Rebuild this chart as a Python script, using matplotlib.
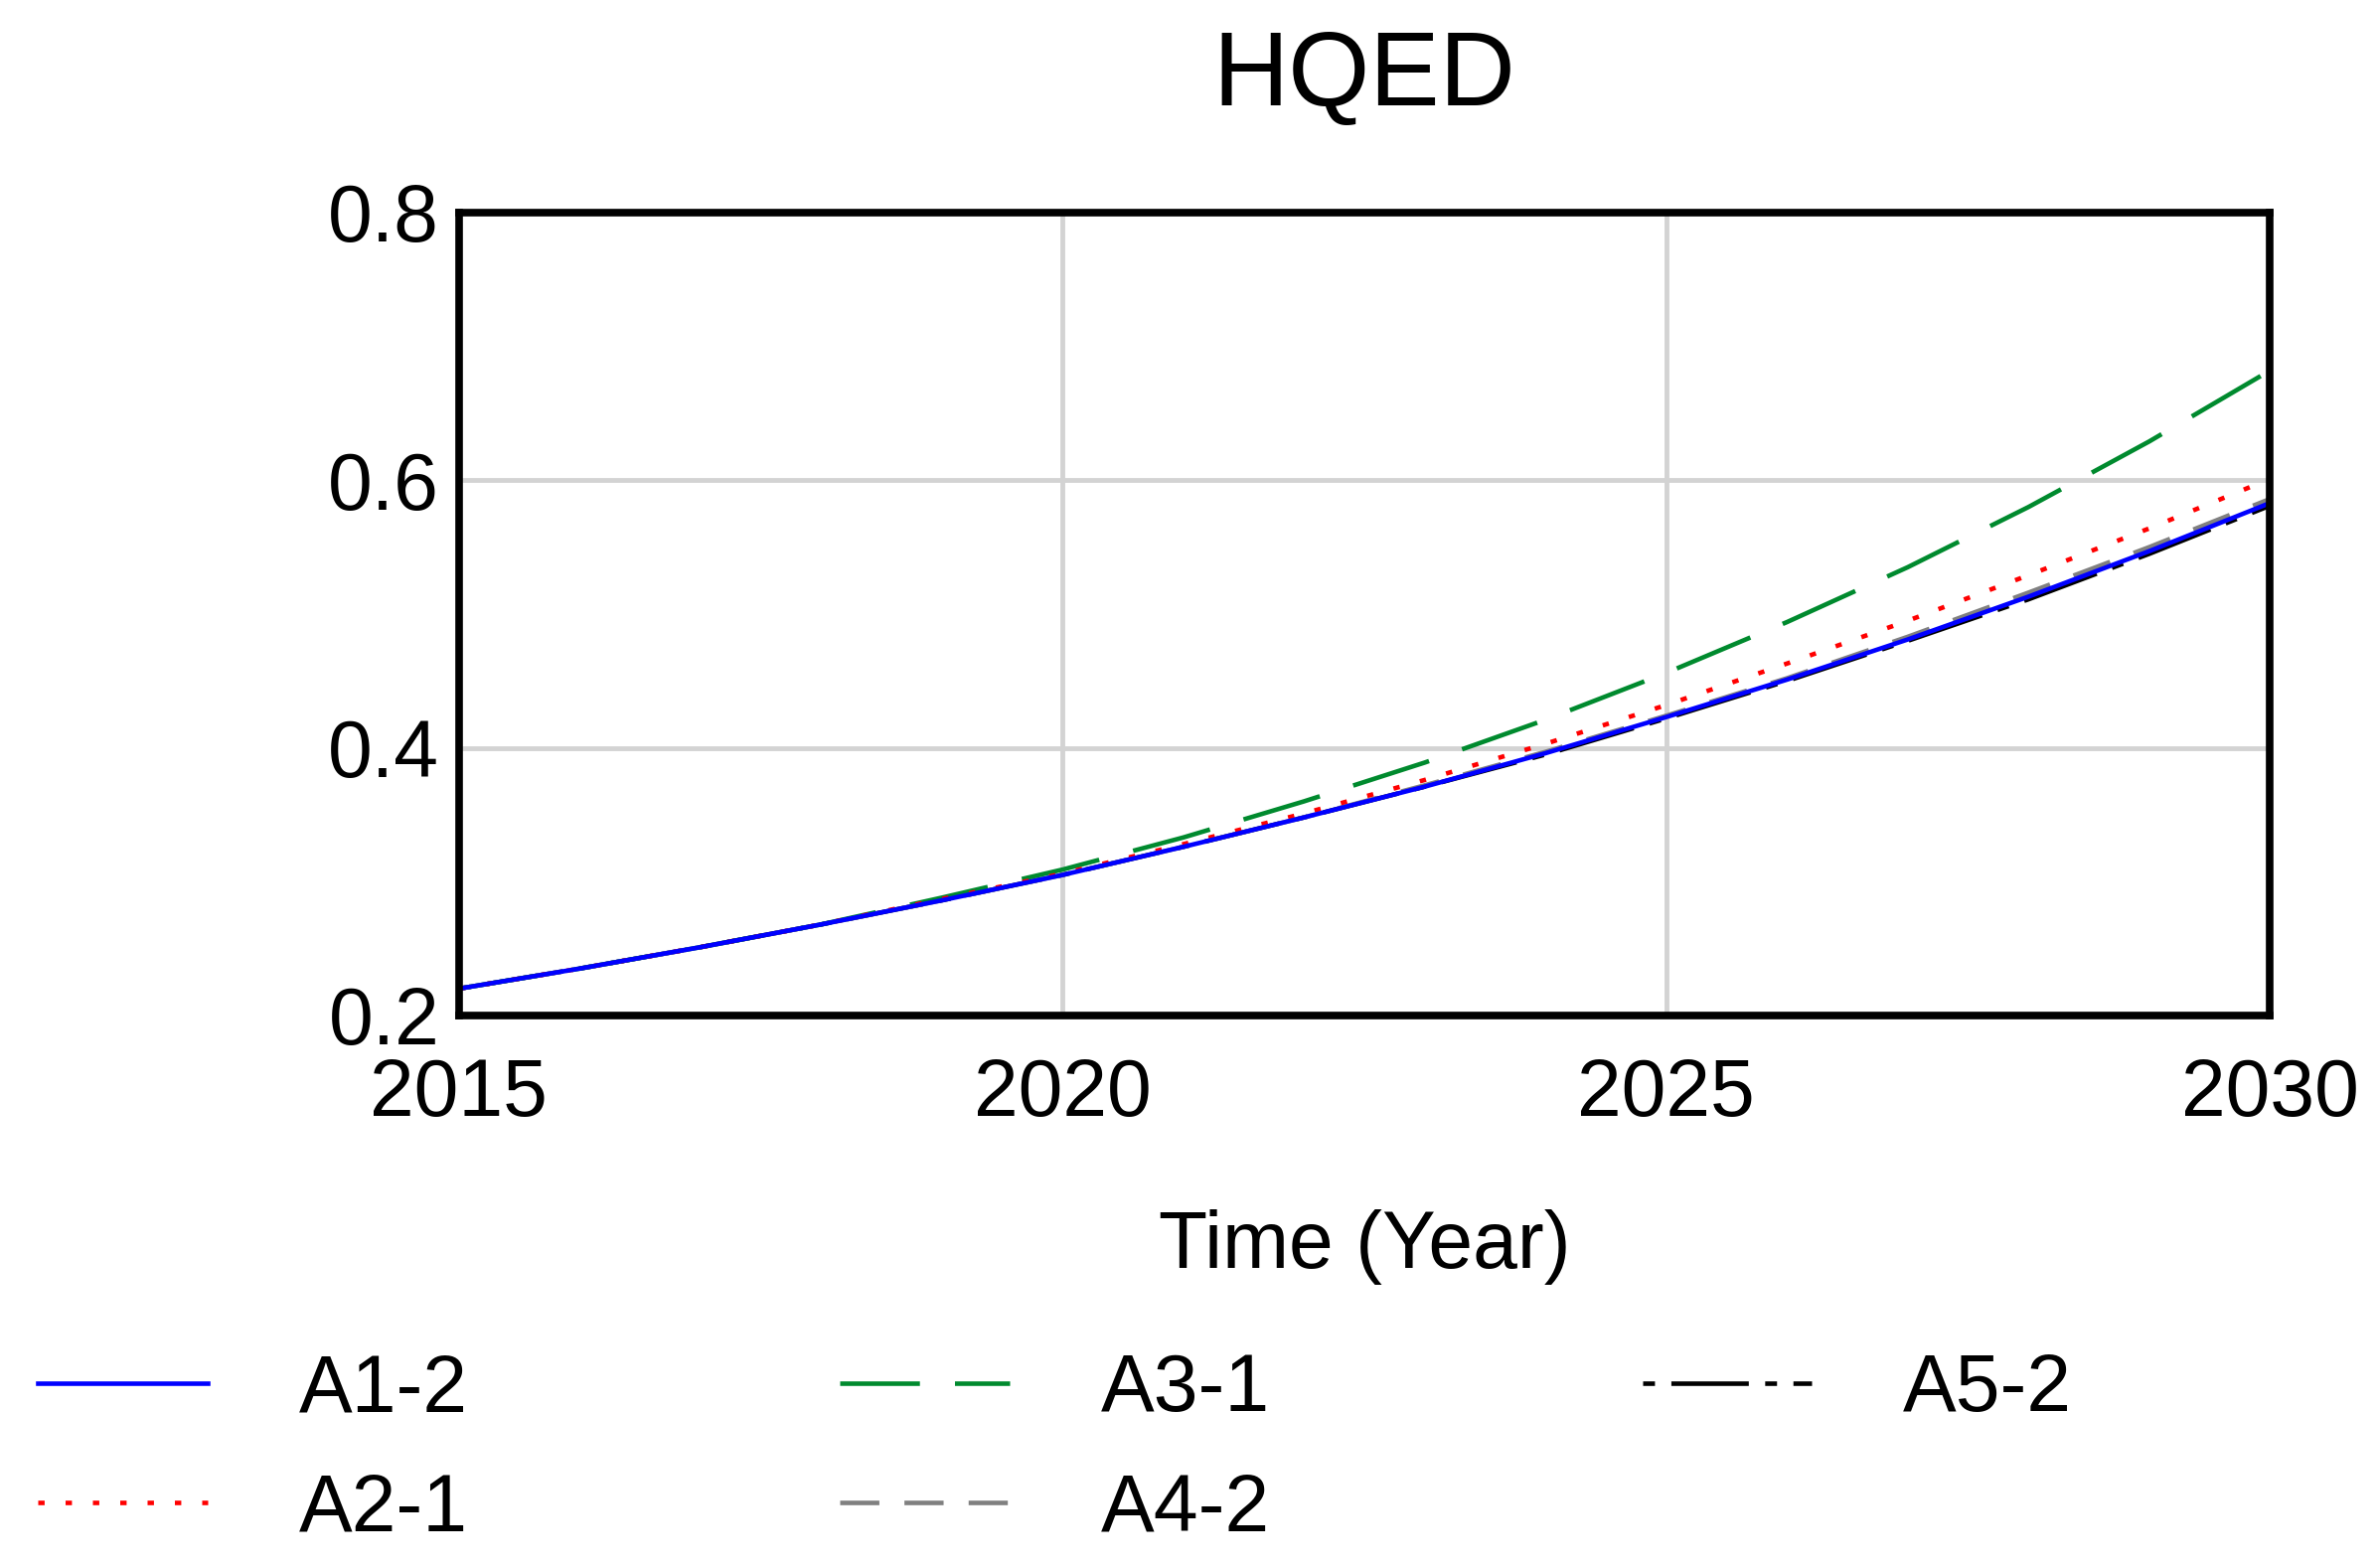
import numpy as np
import matplotlib
matplotlib.use("Agg")
import matplotlib.pyplot as plt

plt.rcParams['font.family'] = ['Liberation Sans', 'DejaVu Sans']

# datos
years = np.arange(2015, 2031)
a1_2 = [0.220, 0.235, 0.251, 0.268, 0.286, 0.305, 0.326, 0.348, 0.371, 0.396,
        0.423, 0.451, 0.481, 0.513, 0.547, 0.583]
a2_1 = [0.220, 0.235, 0.251, 0.268, 0.287, 0.306, 0.328, 0.351, 0.376, 0.403,
        0.432, 0.463, 0.495, 0.529, 0.564, 0.601]
a3_1 = [0.220, 0.235, 0.251, 0.268, 0.288, 0.309, 0.333, 0.360, 0.389, 0.421,
        0.456, 0.494, 0.535, 0.580, 0.629, 0.682]
a4_2 = [0.220, 0.235, 0.251, 0.268, 0.286, 0.305, 0.326, 0.348, 0.372, 0.397,
        0.424, 0.452, 0.483, 0.516, 0.550, 0.586]
a5_2 = [0.220, 0.235, 0.251, 0.268, 0.286, 0.305, 0.326, 0.348, 0.371, 0.395,
        0.422, 0.450, 0.480, 0.511, 0.545, 0.581]
labels = ['A1-2', 'A2-1', 'A3-1', 'A4-2', 'A5-2']

fig = plt.figure(figsize=(23.92, 15.78), dpi=100)
ax = fig.add_axes([0.193, 0.3524, 0.762, 0.512])

lw = 3.3
ax.plot(years, a5_2, color='black', lw=lw, dashes=(2.6, 3.6, 17, 3.6), label=labels[4], zorder=3)
ax.plot(years, a4_2, color='#808080', lw=lw, dashes=(8.6, 5.5), label=labels[3], zorder=3)
ax.plot(years, a3_1, color='#008a2e', lw=lw, dashes=(17.5, 7.7), label=labels[2], zorder=3)
ax.plot(years, a2_1, color='red', lw=lw, dashes=(1.4, 4.6), label=labels[1], zorder=3)
ax.plot(years, a1_2, color='blue', lw=lw, label=labels[0], zorder=4)

ax.set_xlim(2015, 2030)
ax.set_ylim(0.2, 0.8)
ax.set_xticks([2015, 2020, 2025, 2030])
ax.set_yticks([0.2, 0.4, 0.6, 0.8])
ax.set_yticklabels(['0.2', '0.4', '0.6', '0.8'])
ax.grid(True, color='#d3d3d3', lw=3.5, zorder=0)
ax.set_axisbelow(True)
for s in ax.spines.values():
    s.set_linewidth(5.5)
    s.set_color('black')
    s.set_zorder(5)
ax.tick_params(axis='both', length=0, labelsize=58)
ax.tick_params(axis='x', pad=30)
ax.tick_params(axis='y', pad=14)

ax.set_title('HQED', fontsize=76, pad=78)
ax.set_xlabel('Time (Year)', fontsize=58, labelpad=56)

h, l = ax.get_legend_handles_labels()
order = [4, 3, 2, 1, 0]
fig.legend([h[i] for i in order], [l[i] for i in order], ncol=3,
           loc='upper left', bbox_to_anchor=(0.0159, 0.1375),
           frameon=False, fontsize=58, borderpad=0, borderaxespad=0,
           handlelength=2.12, handletextpad=1.14, columnspacing=4.65,
           labelspacing=0.55)

fig.savefig('out.png', dpi=100)
